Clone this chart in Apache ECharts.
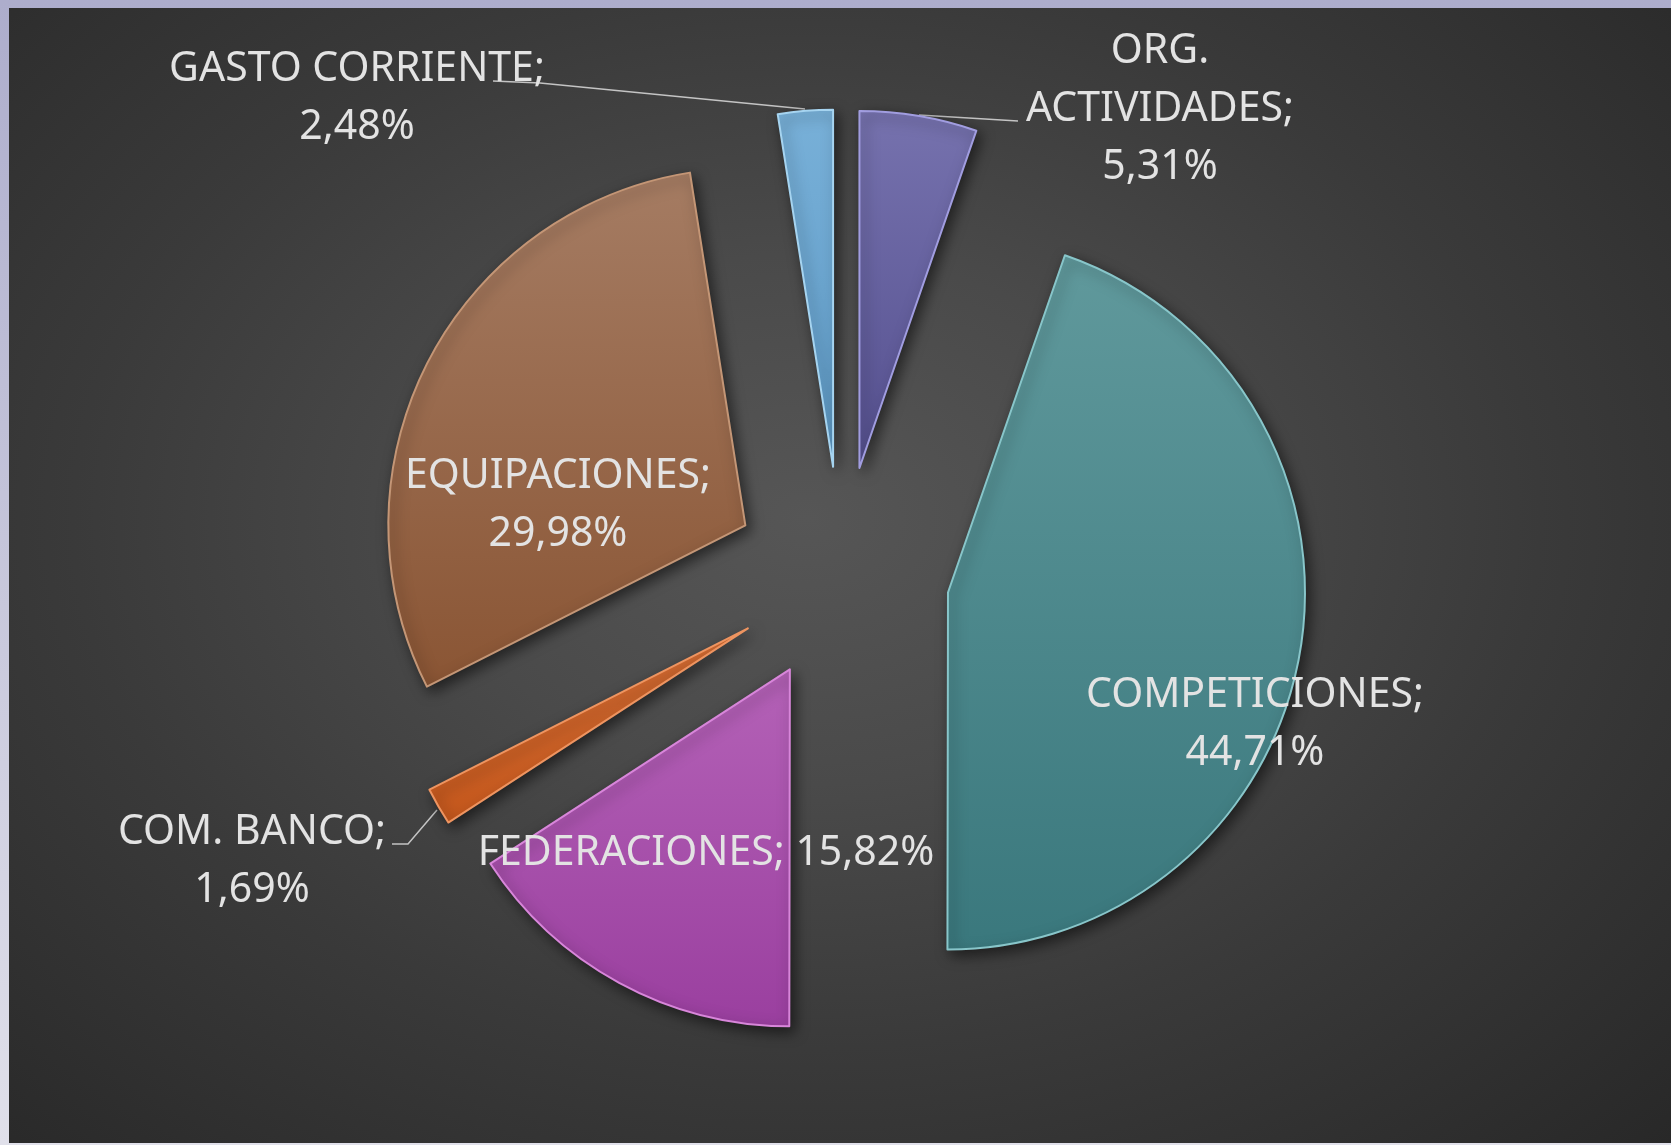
<!DOCTYPE html>
<html>
<head>
<meta charset="utf-8">
<script src="https://cdn.jsdelivr.net/npm/echarts@6/dist/echarts.min.js"></script>
<style>
  html, body { margin: 0; padding: 0; width: 1671px; height: 1145px; overflow: hidden; }
  body { background: linear-gradient(to bottom, #adadcc, #e0e0ea); position: relative; }
  #bg {
    position: absolute; left: 9px; top: 8px; width: 1662px; height: 1135px;
    background: radial-gradient(ellipse farthest-corner at 48% 45%, #565656 0%, #4a4a4a 30%, #3a3a3a 60%, #282828 100%);
  }
  #chart { position: absolute; left: 0; top: 0; width: 1671px; height: 1145px; }
</style>
</head>
<body>
<div id="bg"></div>
<div id="chart"></div>
<script>
// gastos por concepto (%), en orden horario desde las 12
const categories = ['ORG.\nACTIVIDADES', 'COMPETICIONES', 'FEDERACIONES', 'COM. BANCO', 'EQUIPACIONES', 'GASTO CORRIENTE'];
const values = [5.31, 44.71, 15.82, 1.69, 29.98, 2.48];

// estilos de cada sector
const topColors = ['#7672ae', '#60999c', '#b462b7', '#d66e35', '#a57c63', '#78b0d8'];
const bottomColors = ['#55508f', '#3a787d', '#9a3f9f', '#c4571c', '#8a5534', '#5e9ac6'];
const edgeColors = ['#a19de0', '#88c6ca', '#d886da', '#ee9460', '#c49676', '#a6d4f0'];

// geometría del gráfico (sectores separados del centro)
const pieCenter = [841.5, 574.5];
const pieRadius = 357;
const explode = 108;

// posiciones de las etiquetas (como en el original)
const labelPos = {
  0: { x: 1160, y: 109, line: [[919, 115], [1018, 121]] },
  1: { x: 1255, y: 724 },
  2: { x: 706, y: 853 },
  3: { x: 252, y: 861, line: [[437, 810], [408, 844], [392, 844]] },
  4: { x: 558, y: 505 },
  5: { x: 357, y: 98, line: [[493, 81], [540, 83], [805, 109]] }
};

const fmtPct = (v) => v.toFixed(2).replace('.', ',') + '%';

const chart = echarts.init(document.getElementById('chart'));

const total = values.reduce((a, b) => a + b, 0);
const hidden = {
  itemStyle: { color: 'transparent', borderWidth: 0, shadowBlur: 0, shadowColor: 'transparent' },
  label: { show: false },
  labelLine: { show: false }
};

// una serie por sector: cada una dibuja solo su sector, desplazado según su ángulo medio
let acc = 0;
const series = values.map((v, k) => {
  const mid = ((acc + v / 2) / total) * Math.PI * 2;
  acc += v;
  const center = [pieCenter[0] + explode * Math.sin(mid), pieCenter[1] - explode * Math.cos(mid)];
  const data = categories.map((name, i) => {
    if (i !== k) return Object.assign({ name: name, value: values[i] }, hidden);
    return {
      name: name,
      value: values[i],
      itemStyle: {
        color: new echarts.graphic.LinearGradient(0, 0, 0, 1, [
          { offset: 0, color: topColors[i] },
          { offset: 1, color: bottomColors[i] }
        ]),
        borderColor: edgeColors[i],
        borderWidth: 2,
        shadowBlur: 14,
        shadowOffsetX: 4,
        shadowOffsetY: 5,
        shadowColor: 'rgba(0,0,0,0.55)'
      },
      labelLine: { show: !!labelPos[i].line }
    };
  });
  return {
    type: 'pie',
    center: center,
    radius: pieRadius,
    startAngle: 90,
    clockwise: true,
    avoidLabelOverlap: false,
    silent: true,
    z: 2,
    data: data,
    label: {
      position: labelPos[k].line ? 'outside' : 'inside',
      color: '#e3e3e3',
      fontFamily: 'Noto Sans',
      fontSize: 41,
      lineHeight: 58,
      formatter: function (p) {
        const sep = p.name === 'FEDERACIONES' ? ' ' : '\n';
        return p.name + ';' + sep + fmtPct(p.value);
      }
    },
    labelLine: {
      smooth: false,
      lineStyle: { color: '#c4c4c4', width: 1.5 }
    },
    labelLayout: function (p) {
      const pos = labelPos[p.dataIndex];
      const out = { x: pos.x, y: pos.y, align: 'center', verticalAlign: 'middle' };
      if (pos.line) out.labelLinePoints = pos.line;
      return out;
    }
  };
});

chart.setOption({
  backgroundColor: 'transparent',
  animation: false,
  series: series
});
</script>
</body>
</html>
